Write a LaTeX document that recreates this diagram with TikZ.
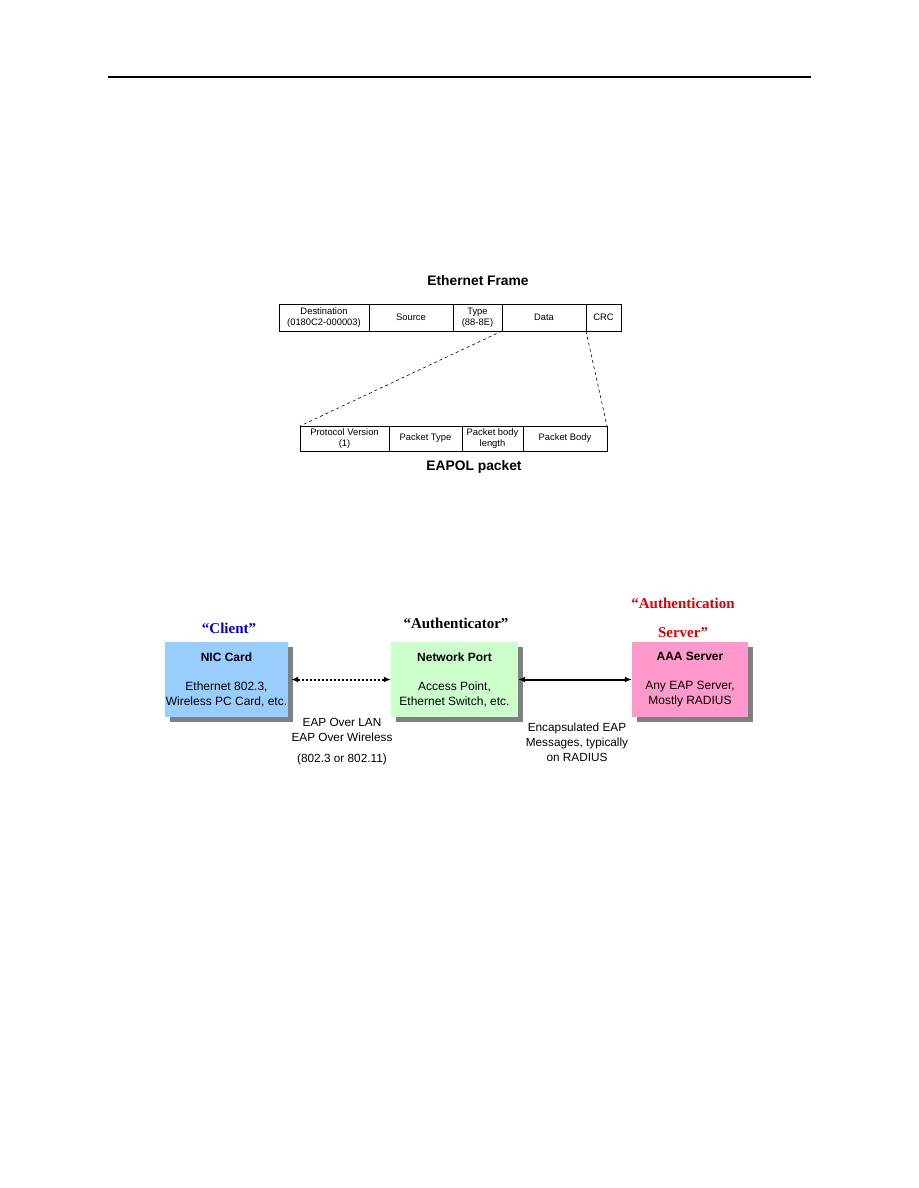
\documentclass[tikz,border=0pt]{standalone}
\usepackage{fontspec}
\setmainfont{Liberation Sans}
\newfontfamily\roleface{Liberation Serif}
\usetikzlibrary{positioning, arrows.meta, shadows}
\definecolor{nicblue}{RGB}{153,204,255}
\definecolor{portgreen}{RGB}{204,255,204}
\definecolor{aaapink}{RGB}{255,153,204}
\definecolor{roleblue}{RGB}{0,0,204}
\definecolor{rolered}{RGB}{221,0,0}
\tikzset{
    cell/.style={draw, line width=0.7pt, outer sep=0pt, inner sep=0pt, minimum height=27pt,
        align=center, font=\fontsize{9.4}{10.5}\selectfont},
    pcell/.style={cell, minimum height=25pt},
    headline/.style={font=\bfseries\fontsize{13.8}{16}\selectfont},
    unit/.style={fill=#1, minimum height=75pt, align=center, inner sep=0pt,
        font=\fontsize{12}{15}\selectfont,
        drop shadow={shadow xshift=5pt, shadow yshift=-5pt, fill=gray, opacity=1}},
    role/.style={font=\roleface\bfseries\fontsize{15}{29}\selectfont, align=center},
    note/.style={font=\fontsize{11.8}{15}\selectfont, align=center},
    link/.style={{Latex[length=7pt,width=6pt]}-{Latex[length=7pt,width=6pt]}}
}
\begin{document}
\begin{tikzpicture}[x=1pt, y=-1pt]
    \useasboundingbox (0,0) rectangle (918,1188);
    \draw[line width=1.2pt] (108,77) -- (811,77);

    % ethernet frame
    \node[headline] (frametitle) at (478,281) {Ethernet Frame};
    \node[cell, minimum width=90pt] (dst) at (324,317.5) {Destination\\(0180C2-000003)};
    \node[cell, minimum width=84pt, right=0pt of dst] (src) {Source};
    \node[cell, minimum width=49pt, right=0pt of src] (type) {Type\\(88-8E)};
    \node[cell, minimum width=84pt, right=0pt of type] (data) {Data};
    \node[cell, minimum width=35pt, right=0pt of data] (crc) {CRC};

    % eapol packet
    \node[pcell, minimum width=89pt] (ver) at (344.5,438.5) {Protocol Version\\(1)};
    \node[pcell, minimum width=73pt, right=0pt of ver] (ptype) {Packet Type};
    \node[pcell, minimum width=61pt, right=0pt of ptype] (plen) {Packet body\\length};
    \node[pcell, minimum width=84pt, right=0pt of plen] (pbody) {Packet Body};
    \node[headline] (eapoltitle) at (474,467) {EAPOL packet};

    \draw[dashed, line width=0.6pt] (data.south west) -- (ver.north west);
    \draw[dashed, line width=0.6pt] (data.south east) -- (pbody.north east);

    % 802.1x parties
    \node[unit=nicblue, minimum width=123pt] (nic) at (226.5,679.5)
        {\textbf{NIC Card}\\[14pt]Ethernet 802.3,\\Wireless PC Card, etc.};
    \node[unit=portgreen, minimum width=127pt] (port) at (454.5,679.5)
        {\textbf{Network Port}\\[14pt]Access Point,\\Ethernet Switch, etc.};
    \node[unit=aaapink, minimum width=116pt] (aaa) at (690,679.5)
        {\textbf{AAA Server}\\[14pt]Any EAP Server,\\Mostly RADIUS};

    \node[role, text=roleblue] (client) at (229,628) {“Client”};
    \node[role] (authr) at (456,623) {“Authenticator”};
    \node[role, text=rolered] (authsrv) at (683,617.5) {“Authentication\\Server”};

    \draw[link, line width=2pt, dotted] ([xshift=3pt]nic.east) -- (port.west);
    \draw[link, line width=2pt] (port.east) -- (aaa.west);

    \node[note] (eapol) at (342,742) {EAP Over LAN\\EAP Over Wireless\\[6pt](802.3 or 802.11)};
    \node[note] (radius) at (577,742) {Encapsulated EAP\\Messages, typically\\on RADIUS};
\end{tikzpicture}
\end{document}
